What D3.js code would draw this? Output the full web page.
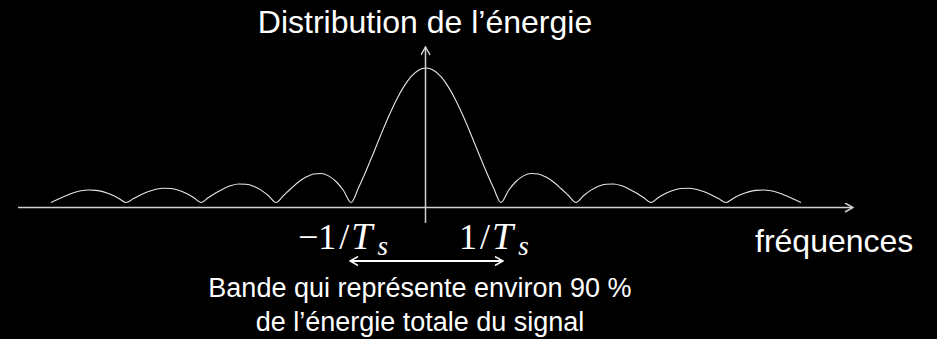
<!DOCTYPE html>
<html>
<head>
<meta charset="utf-8">
<script src="https://cdn.jsdelivr.net/npm/d3@7"></script>
<style>
  html, body { margin: 0; padding: 0; background: #000; }
  svg { display: block; }
</style>
</head>
<body>
<svg id="chart" width="937" height="339"></svg>
<script>
// Spectral amplitude |S(f)| sampled every 0.1/Ts from -5/Ts to +5/Ts
const freqStart = -5;
const freqStep = 0.1;
const amplitude = [
  0, 0.026, 0.051, 0.072, 0.087, 0.093, 0.090, 0.079, 0.059, 0.032,
  0, 0.029, 0.057, 0.081, 0.098, 0.106, 0.104, 0.091, 0.068, 0.037,
  0, 0.037, 0.072, 0.103, 0.126, 0.138, 0.136, 0.121, 0.092, 0.050,
  0, 0.052, 0.104, 0.152, 0.189, 0.212, 0.216, 0.198, 0.156, 0.089,
  0, 0.109, 0.234, 0.368, 0.505, 0.637, 0.757, 0.858, 0.936, 0.984,
  1,
  0.984, 0.936, 0.858, 0.757, 0.637, 0.505, 0.368, 0.234, 0.109, 0,
  0.089, 0.156, 0.198, 0.216, 0.212, 0.189, 0.152, 0.104, 0.052, 0,
  0.050, 0.092, 0.121, 0.136, 0.138, 0.126, 0.103, 0.072, 0.037, 0,
  0.037, 0.068, 0.091, 0.104, 0.106, 0.098, 0.081, 0.057, 0.029, 0,
  0.032, 0.059, 0.079, 0.090, 0.093, 0.087, 0.072, 0.051, 0.026, 0
];
const tickValues = [-1, 1];
const tickNumerators = ["\u22121", "1"];
const titleText = "Distribution de l\u2019\u00e9nergie";
const axisLabel = "fr\u00e9quences";
const bandNote = ["Bande qui repr\u00e9sente environ 90 %", "de l\u2019\u00e9nergie totale du signal"];

const svg = d3.select("#chart");
const x = d3.scaleLinear().domain([-5, 5]).range([51, 801]);
const y = d3.scaleLinear().domain([0, 1]).range([202.5, 68]);

const axisY = 207.5;
const axisColor = "#d0d0d0";

// arrowheads
const defs = svg.append("defs");
function chevron(id, color) {
  defs.append("marker")
    .attr("id", id)
    .attr("viewBox", "0 0 10 10")
    .attr("refX", 9).attr("refY", 5)
    .attr("markerWidth", 10).attr("markerHeight", 10)
    .attr("markerUnits", "userSpaceOnUse")
    .attr("orient", "auto-start-reverse")
    .append("path")
    .attr("d", "M1,0.5 L9,5 L1,9.5")
    .attr("fill", "none")
    .attr("stroke", color)
    .attr("stroke-width", 1.5);
}
chevron("arrow-axis", axisColor);
chevron("arrow-band", "#ffffff");

// frequency axis
svg.append("line")
  .attr("x1", 18).attr("x2", 853)
  .attr("y1", axisY).attr("y2", axisY)
  .attr("stroke", axisColor).attr("stroke-width", 1.5)
  .attr("marker-end", "url(#arrow-axis)");

// energy axis
svg.append("line")
  .attr("x1", x(0) - 0.5).attr("x2", x(0) - 0.5)
  .attr("y1", 223).attr("y2", 47)
  .attr("stroke", axisColor).attr("stroke-width", 1.5)
  .attr("marker-end", "url(#arrow-axis)");

// spectrum curve
const points = amplitude.map((a, i) => [freqStart + i * freqStep, a]);
svg.append("path")
  .datum(points)
  .attr("fill", "none")
  .attr("stroke", "#e6e6e6")
  .attr("stroke-width", 1.1)
  .attr("d", d3.line().x(d => x(d[0])).y(d => y(d[1])).curve(d3.curveMonotoneX));

// title
svg.append("text")
  .attr("x", 425).attr("y", 33)
  .attr("text-anchor", "middle")
  .attr("font-family", "Liberation Sans, Arial, sans-serif")
  .attr("font-size", 32)
  .attr("fill", "#fff")
  .text(titleText);

// axis label
svg.append("text")
  .attr("x", 755).attr("y", 252)
  .attr("font-family", "Liberation Sans, Arial, sans-serif")
  .attr("font-size", 32)
  .attr("fill", "#fff")
  .text(axisLabel);

// tick labels ±1/Ts
const tickGroup = svg.selectAll("g.tick-label")
  .data(tickValues)
  .join("g")
  .attr("class", "tick-label");
const tl = tickGroup.append("text")
  .attr("x", (d, i) => x(d) + (i === 0 ? -53 : -42))
  .attr("y", 249)
  .attr("font-family", "Liberation Serif, Times New Roman, serif")
  .attr("font-size", 36)
  .attr("fill", "#fff");
tl.append("tspan").attr("dx", 0).text((d, i) => tickNumerators[i]);
tl.append("tspan").attr("dx", 3).text("/");
tl.append("tspan").attr("font-style", "italic").attr("font-size", 38).attr("dx", 2).text("T");
tl.append("tspan").attr("font-style", "italic").attr("font-size", 27).attr("dx", 5).attr("dy", 6).text("s");

// band between -1/Ts and 1/Ts
svg.append("line")
  .attr("x1", x(-1) - 1).attr("x2", x(1) + 2)
  .attr("y1", 261).attr("y2", 261)
  .attr("stroke", "#fff").attr("stroke-width", 2)
  .attr("marker-start", "url(#arrow-band)")
  .attr("marker-end", "url(#arrow-band)");

svg.selectAll("text.note")
  .data(bandNote)
  .join("text")
  .attr("class", "note")
  .attr("x", 420)
  .attr("y", (d, i) => 297 + i * 34)
  .attr("text-anchor", "middle")
  .attr("font-family", "Liberation Sans, Arial, sans-serif")
  .attr("font-size", 27)
  .attr("fill", "#fff")
  .text(d => d);
</script>
</body>
</html>
